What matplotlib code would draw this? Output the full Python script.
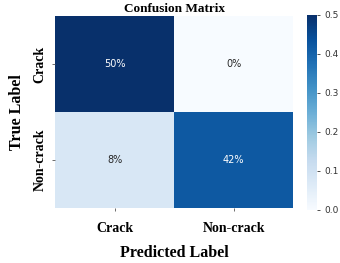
import numpy as np
import matplotlib
matplotlib.use("Agg")
import matplotlib.pyplot as plt
import seaborn as sns

labels = ["Crack", "Non-crack"]
cm = np.array([[0.50, 0.00],
               [0.08, 0.42]])

fig = plt.figure(figsize=(3.4, 2.63), dpi=100)
ax = fig.add_axes([0.162, 0.209, 0.700, 0.730])
cax = fig.add_axes([0.903, 0.202, 0.029, 0.741])

sns.heatmap(cm, annot=True, fmt=".0%", cmap="Blues", vmin=0, vmax=0.5,
            ax=ax, cbar_ax=cax, annot_kws={"size": 7})

serif = "Liberation Serif"
ax.set_title("Confusion Matrix", fontfamily=serif, fontweight="bold",
             fontsize=9.5, pad=3)
ax.set_xticklabels(labels, fontfamily=serif, fontweight="bold", fontsize=10)
ax.set_yticklabels(labels, fontfamily=serif, fontweight="bold", fontsize=10,
                   rotation=90, va="center")
ax.set_xlabel("Predicted Label", fontfamily=serif, fontweight="bold",
              fontsize=11.5, labelpad=7)
ax.set_ylabel("True Label", fontfamily=serif, fontweight="bold",
              fontsize=11.5, labelpad=6.5)
ax.tick_params(axis="x", length=2, width=0.6, color="#555555", pad=8)
ax.tick_params(axis="y", length=2, width=0.6, color="#555555", pad=4)

cax.tick_params(labelsize=6.5, length=2, width=0.6, colors="#333333")
cax.set_yticks([0.0, 0.1, 0.2, 0.3, 0.4, 0.5])

fig.savefig("out.png", dpi=100)
